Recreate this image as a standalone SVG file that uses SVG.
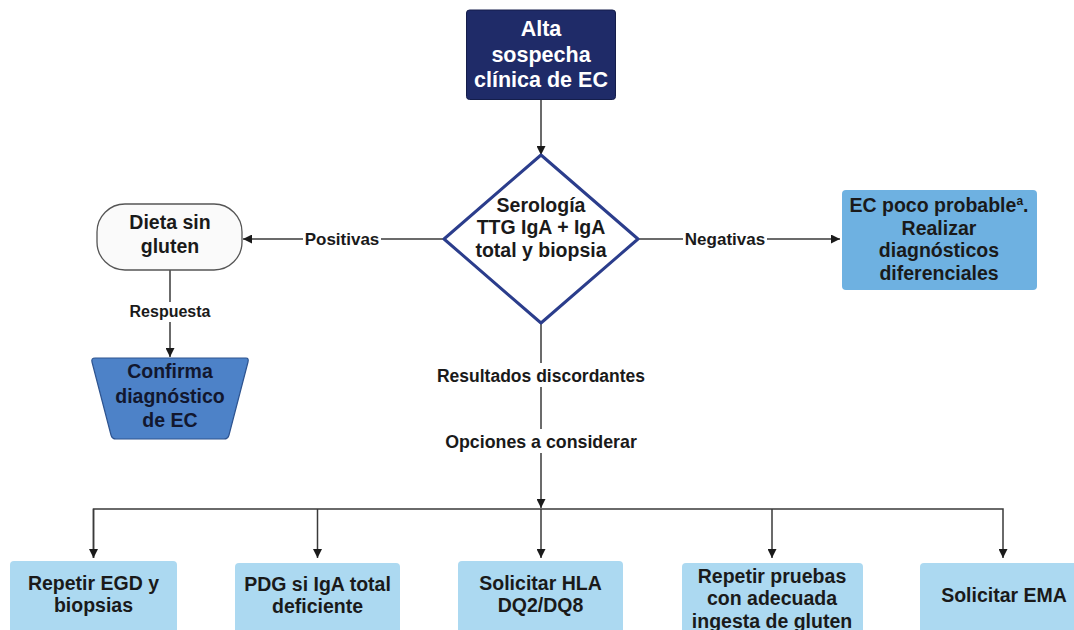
<svg xmlns="http://www.w3.org/2000/svg" width="1074" height="630" viewBox="0 0 1074 630">
<defs>
<marker id="arr" viewBox="0 0 10 10" refX="10" refY="5" markerWidth="10" markerHeight="9" markerUnits="userSpaceOnUse" orient="auto">
<path d="M0,0 L10,5 L0,10 z" fill="#1a1a1a"/>
</marker>
<style>
text{font-family:"Liberation Sans",Arial,sans-serif;font-weight:bold;text-anchor:middle;fill:#1a1a1a}
.w{fill:#ffffff;font-size:21.5px}
.n{font-size:19.5px}
.lbl{font-size:17px}
.line{stroke:#3a3a3a;stroke-width:1.5;fill:none}
.bot{fill:#acd9f1}
.bg{fill:#ffffff}
</style>
</defs>
<rect width="1074" height="630" fill="#ffffff"/>
<g id="connectors">
<line class="line" x1="541" y1="100" x2="541" y2="155" marker-end="url(#arr)"/>
<line class="line" x1="444" y1="239" x2="243" y2="239" marker-end="url(#arr)"/>
<line class="line" x1="638" y1="239" x2="840" y2="239" marker-end="url(#arr)"/>
<line class="line" x1="170" y1="270" x2="170" y2="357" marker-end="url(#arr)"/>
<line class="line" x1="541" y1="323" x2="541" y2="508" marker-end="url(#arr)"/>
<polyline class="line" points="93.5,558 93.5,509 1003,509 1003,558" marker-end="url(#arr)"/>
<line class="line" x1="317.5" y1="509" x2="317.5" y2="558" marker-end="url(#arr)"/>
<line class="line" x1="541" y1="509" x2="541" y2="558" marker-end="url(#arr)"/>
<line class="line" x1="772" y1="509" x2="772" y2="558" marker-end="url(#arr)"/>
<line class="line" x1="93.5" y1="509" x2="93.5" y2="558" marker-end="url(#arr)"/>
<rect class="bg" x="303" y="228" width="78" height="22"/>
<text class="lbl" x="342" y="245">Positivas</text>
<rect class="bg" x="683" y="228" width="84" height="22"/>
<text class="lbl" x="725" y="245">Negativas</text>
<rect class="bg" x="128" y="302" width="84" height="20"/>
<text x="170" y="317" style="font-size:16px">Respuesta</text>
<rect class="bg" x="434" y="363" width="214" height="24"/>
<text class="lbl" x="541" y="382" style="font-size:17.5px">Resultados discordantes</text>
<rect class="bg" x="443" y="429" width="197" height="24"/>
<text class="lbl" x="541" y="448" style="font-size:17.8px">Opciones a considerar</text>
</g>
<g id="n-alta">
<rect x="466.5" y="10" width="149" height="89.5" rx="3" fill="#1f2b68" stroke="#141d4a" stroke-width="1"/>
<text class="w" x="541" y="36">Alta</text>
<text class="w" x="541" y="62">sospecha</text>
<text class="w" x="541" y="87">clínica de EC</text>
</g>
<g id="n-serologia">
<polygon points="541,155 638,239 541,323 444,239" fill="#ffffff" stroke="#2b3d8c" stroke-width="3" stroke-linejoin="round"/>
<text class="n" x="541" y="212">Serología</text>
<text class="n" x="541" y="234">TTG IgA + IgA</text>
<text class="n" x="541" y="257">total y biopsia</text>
</g>
<g id="n-dieta">
<rect x="97" y="204" width="145" height="66" rx="28" fill="#fafafa" stroke="#555555" stroke-width="1.3"/>
<text class="n" x="170" y="229">Dieta sin</text>
<text class="n" x="170" y="253">gluten</text>
</g>
<g id="n-confirma">
<path d="M95,358 L246,358 Q249,358 248,362 L229,435 Q228,439 224,439 L116,439 Q112,439 111,435 L92,362 Q91,358 95,358 Z" fill="#4d82c8" stroke="#2e5490" stroke-width="1.2"/>
<text x="170" y="378" style="font-size:19.5px;fill:#12172e">Confirma</text>
<text x="170" y="403" style="font-size:19.5px;fill:#12172e">diagnóstico</text>
<text x="170" y="427" style="font-size:19.5px;fill:#12172e">de EC</text>
</g>
<g id="n-ec">
<rect x="842" y="190" width="195" height="100" rx="4" fill="#6eb1e1"/>
<text class="n" x="939" y="212">EC poco probable<tspan style="font-size:12px" dy="-7">a</tspan><tspan dy="7">.</tspan></text>
<text class="n" x="939" y="235">Realizar</text>
<text class="n" x="939" y="257">diagnósticos</text>
<text class="n" x="939" y="280">diferenciales</text>
</g>
<g id="n-egd">
<rect class="bot" x="10" y="561" width="167" height="80" rx="4"/>
<text class="n" x="93.5" y="590">Repetir EGD y</text>
<text class="n" x="93.5" y="612">biopsias</text>
</g>
<g id="n-pdg">
<rect class="bot" x="235" y="563" width="165" height="80" rx="4"/>
<text class="n" x="317.5" y="591">PDG si IgA total</text>
<text class="n" x="317.5" y="613">deficiente</text>
</g>
<g id="n-hla">
<rect class="bot" x="458" y="561" width="165" height="80" rx="4"/>
<text class="n" x="540.5" y="590">Solicitar HLA</text>
<text class="n" x="540.5" y="612">DQ2/DQ8</text>
</g>
<g id="n-pruebas">
<rect class="bot" x="682" y="563" width="181" height="80" rx="4"/>
<text class="n" x="772" y="583">Repetir pruebas</text>
<text class="n" x="772" y="605">con adecuada</text>
<text class="n" x="772" y="628">ingesta de gluten</text>
</g>
<g id="n-ema">
<rect class="bot" x="920" y="563" width="166" height="80" rx="4"/>
<text class="n" x="1004" y="602">Solicitar EMA</text>
</g>
</svg>
